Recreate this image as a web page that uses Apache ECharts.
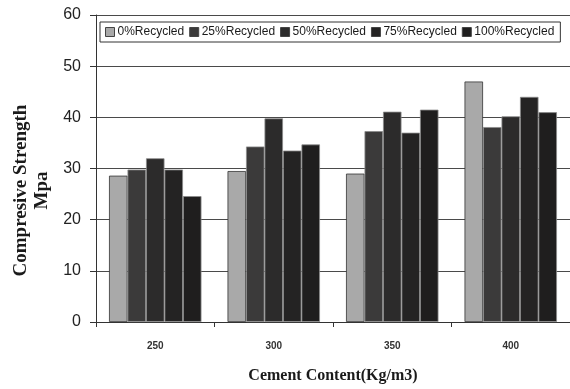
<!DOCTYPE html>
<html>
<head>
<meta charset="utf-8">
<script src="https://cdn.jsdelivr.net/npm/echarts@6/dist/echarts.min.js"></script>
<style>
  html, body { margin: 0; padding: 0; background: #ffffff; }
  #chart { width: 570px; height: 389px; }
</style>
</head>
<body>
<div id="chart"></div>
<script>
// Cement content groups along the x axis
var cementContent = ['250', '300', '350', '400'];

// Compressive strength (MPa) for each recycled-aggregate replacement level
var recycled0   = [28.6, 29.5, 29.0, 47.0];
var recycled25  = [29.8, 34.3, 37.3, 38.1];
var recycled50  = [32.0, 39.8, 41.1, 40.2];
var recycled75  = [29.8, 33.5, 37.0, 44.0];
var recycled100 = [24.6, 34.7, 41.5, 41.0];

var seriesNames = ['0%Recycled', '25%Recycled', '50%Recycled', '75%Recycled', '100%Recycled'];
var seriesData = [recycled0, recycled25, recycled50, recycled75, recycled100];
var seriesColors = ['#a9a9a9', '#3b3a3a', '#2c2b2b', '#242323', '#1f1e1e'];

var yTicks = [0, 10, 20, 30, 40, 50, 60];

var chart = echarts.init(document.getElementById('chart'), null, { renderer: 'canvas' });

var series = seriesData.map(function (values, i) {
  return {
    name: seriesNames[i],
    type: 'bar',
    data: values,
    barGap: '0%',
    barCategoryGap: '22%',
    itemStyle: {
      color: seriesColors[i],
      borderColor: i === 0 ? '#333333' : '#8a8a8a',
      borderWidth: 0.8
    }
  };
});

chart.setOption({
  animation: false,
  backgroundColor: '#ffffff',
  textStyle: { fontFamily: 'Liberation Sans, Arial, sans-serif' },
  grid: { left: 96, top: 15, width: 477, height: 314, containLabel: false },
  legend: {
    data: seriesNames,
    left: 100,
    top: 22,
    itemWidth: 9,
    itemHeight: 9,
    itemGap: 5,
    icon: 'rect',
    padding: [4, 6, 4, 5],
    borderColor: '#333333',
    borderWidth: 1,
    backgroundColor: '#ffffff',
    textStyle: { color: '#1a1a1a', fontSize: 12, padding: [0, 0, 0, -2] },
    itemStyle: { borderColor: '#444444', borderWidth: 1 }
  },
  xAxis: {
    type: 'category',
    data: cementContent,
    name: 'Cement Content(Kg/m3)',
    nameLocation: 'middle',
    nameGap: 46,
    nameTextStyle: { fontFamily: 'Liberation Serif, Times New Roman, serif', fontWeight: 'bold', fontSize: 16, color: '#1a1a1a' },
    axisLine: { lineStyle: { color: '#333333', width: 1 } },
    axisTick: { show: true, length: 5, lineStyle: { color: '#333333' } },
    axisLabel: { fontSize: 10, fontWeight: 'bold', color: '#333333', margin: 19 },
    splitLine: { show: false }
  },
  yAxis: {
    type: 'value',
    min: yTicks[0],
    max: yTicks[yTicks.length - 1],
    interval: 10,
    name: 'Compresive Strength\nMpa',
    nameLocation: 'middle',
    nameRotate: 90,
    nameGap: 42,
    nameTextStyle: {
      fontFamily: 'Liberation Serif, Times New Roman, serif',
      fontWeight: 'bold',
      fontSize: 19,
      color: '#1a1a1a',
      lineHeight: 21,
      padding: [0, 44, 0, 0]
    },
    axisLine: { show: true, lineStyle: { color: '#333333', width: 1 } },
    axisTick: { show: true, length: 6, lineStyle: { color: '#333333' } },
    axisLabel: { fontSize: 16, color: '#222222', margin: 15 },
    splitLine: { show: true, lineStyle: { color: '#4a4a4a', width: 1.2 } }
  },
  series: series
});
</script>
</body>
</html>
